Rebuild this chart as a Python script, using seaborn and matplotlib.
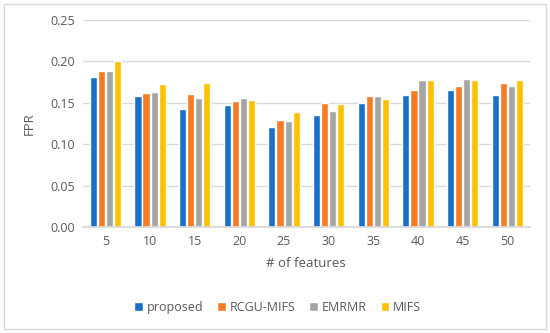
import numpy as np
import pandas as pd
import seaborn as sns
from matplotlib import pylab as plt
from matplotlib.patches import Rectangle

features = [5, 10, 15, 20, 25, 30, 35, 40, 45, 50]
methods = ["proposed", "RCGU-MIFS", "EMRMR", "MIFS"]

proposed = [0.181, 0.158, 0.142, 0.147, 0.121, 0.135, 0.150, 0.160, 0.165, 0.160]
rcgu_mifs = [0.189, 0.162, 0.161, 0.152, 0.129, 0.150, 0.158, 0.165, 0.170, 0.174]
emrmr = [0.188, 0.163, 0.156, 0.156, 0.128, 0.140, 0.158, 0.178, 0.179, 0.170]
mifs = [0.200, 0.173, 0.174, 0.154, 0.139, 0.148, 0.155, 0.177, 0.177, 0.178]

colors = ["#1870C9", "#F77B22", "#A5A5A5", "#FFC000"]

df = pd.DataFrame({
    "features": np.tile(features, 4),
    "method": np.repeat(methods, len(features)),
    "FPR": proposed + rcgu_mifs + emrmr + mifs,
})

sns.set_theme(style="white")
plt.rcParams["font.family"] = ["Open Sans", "DejaVu Sans"]
text_color = "#595959"

fig = plt.figure(figsize=(5.5, 3.33), dpi=100)
ax = fig.add_axes([0.151, 0.318, 0.812, 0.622])

sns.barplot(data=df, x="features", y="FPR", hue="method", palette=colors,
            width=0.72, gap=0.12, ax=ax, saturation=1)

ax.set_ylim(0, 0.25)
ax.set_yticks(np.arange(0, 0.26, 0.05))
ax.set_yticklabels(["{:.2f}".format(v) for v in np.arange(0, 0.26, 0.05)])
ax.yaxis.grid(True, color="#D9D9D9", linewidth=1)
ax.set_axisbelow(True)
for s in ["top", "right", "left"]:
    ax.spines[s].set_visible(False)
ax.spines["bottom"].set_color("#D9D9D9")
ax.tick_params(axis="both", colors=text_color, labelsize=9, length=0, pad=6)
ax.set_xlabel("# of features", color=text_color, fontsize=9.5, labelpad=6)
ax.set_ylabel("FPR", color=text_color, fontsize=9.5, labelpad=10)

ax.get_legend().remove()
handles, labels = ax.get_legend_handles_labels()
fig.legend(handles, labels, loc="center", bbox_to_anchor=(0.505, 0.077), ncol=4,
           frameon=False, fontsize=9, labelcolor=text_color, handlelength=0.7,
           handleheight=0.7, handletextpad=0.3, columnspacing=1.1)

fig.patches.append(Rectangle((0.008, 0.012), 0.984, 0.976, transform=fig.transFigure,
                             fill=False, edgecolor="#D9D9D9", linewidth=1))

fig.savefig("out.png", dpi=100)
